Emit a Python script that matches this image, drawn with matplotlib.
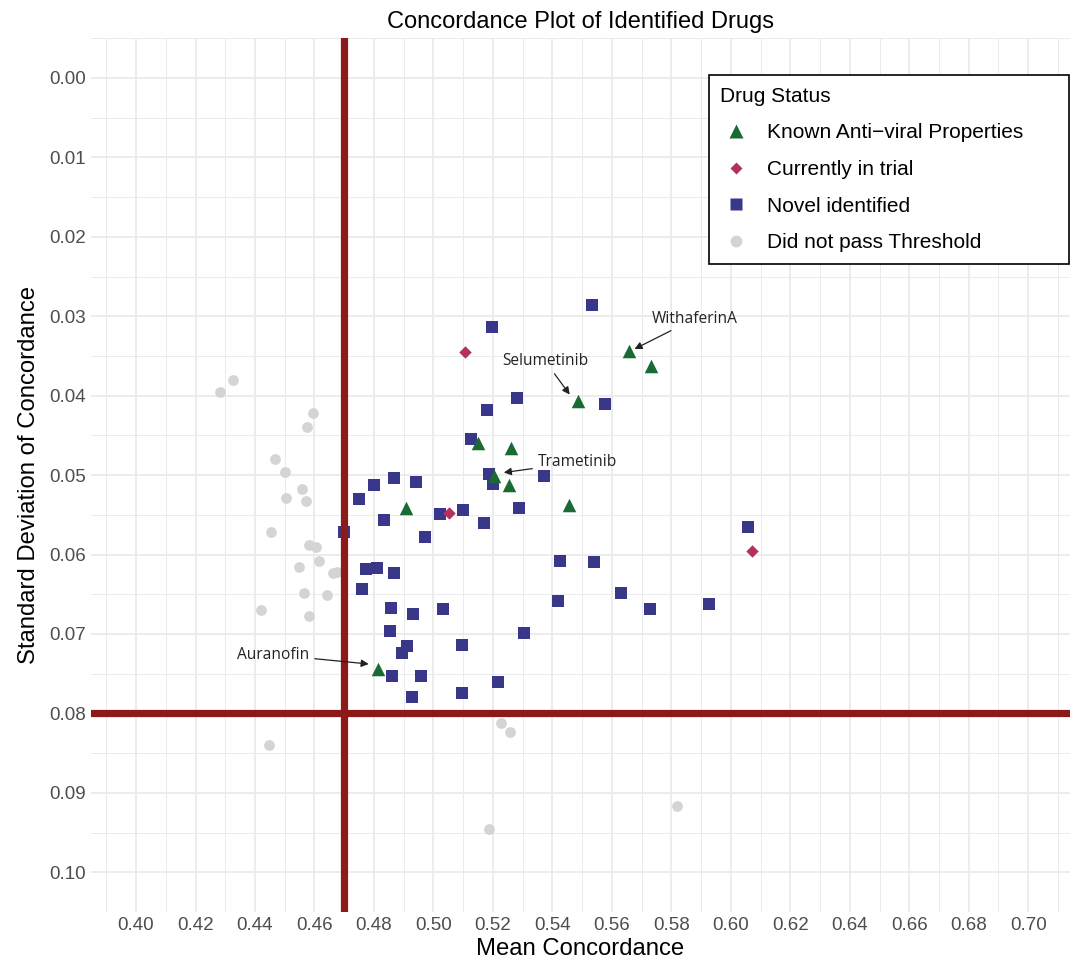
import numpy as np
import matplotlib.pyplot as plt
from matplotlib.lines import Line2D

plt.rcParams['font.family'] = ['Liberation Sans', 'DejaVu Sans']

# points (mean concordance, sd of concordance)
known_x = [0.5657, 0.5730, 0.5485, 0.5151, 0.5261, 0.5203, 0.5254, 0.4908, 0.5456, 0.4812]
known_y = [0.0344, 0.0362, 0.0407, 0.0460, 0.0466, 0.0501, 0.0512, 0.0542, 0.0538, 0.0744]

trial_x = [0.5106, 0.5054, 0.6071]
trial_y = [0.0345, 0.0548, 0.0596]

novel_x = [0.5532, 0.5197, 0.5281, 0.5180, 0.5125, 0.5188, 0.5199, 0.5371, 0.4867, 0.4943,
           0.4801, 0.4751, 0.5287, 0.5098, 0.5022, 0.4835, 0.5169, 0.4971, 0.4700, 0.5425,
           0.5541, 0.4772, 0.4811, 0.4866, 0.6059, 0.5576, 0.4760, 0.4857, 0.4933, 0.5033,
           0.5418, 0.5631, 0.5729, 0.5925, 0.4855, 0.5305, 0.5097, 0.4911, 0.4896, 0.4862,
           0.4959, 0.5218, 0.4927, 0.5096]
novel_y = [0.0286, 0.0314, 0.0403, 0.0418, 0.0455, 0.0498, 0.0511, 0.0501, 0.0504, 0.0509,
           0.0512, 0.0530, 0.0542, 0.0544, 0.0549, 0.0557, 0.0560, 0.0578, 0.0572, 0.0608,
           0.0609, 0.0618, 0.0617, 0.0623, 0.0565, 0.0410, 0.0644, 0.0667, 0.0675, 0.0669,
           0.0658, 0.0649, 0.0669, 0.0662, 0.0696, 0.0699, 0.0714, 0.0715, 0.0724, 0.0753,
           0.0753, 0.0761, 0.0779, 0.0774]

failed_x = [0.4282, 0.4327, 0.4594, 0.4576, 0.4467, 0.4501, 0.4558, 0.4504, 0.4571, 0.4454,
            0.4583, 0.4605, 0.4549, 0.4616, 0.4661, 0.4675, 0.4420, 0.4565, 0.4642, 0.4582,
            0.4446, 0.5228, 0.5257, 0.5188, 0.5819]
failed_y = [0.0395, 0.0380, 0.0422, 0.0440, 0.0480, 0.0496, 0.0517, 0.0529, 0.0532, 0.0571,
            0.0588, 0.0590, 0.0616, 0.0608, 0.0623, 0.0622, 0.0670, 0.0649, 0.0651, 0.0678,
            0.0840, 0.0812, 0.0824, 0.0945, 0.0917]

x_cut = 0.47
y_cut = 0.08

# label, point, text position
labels = [
    ("WithaferinA", (0.5672, 0.0342), (0.5879, 0.0303), 'center'),
    ("Selumetinib", (0.5461, 0.0400), (0.5375, 0.0356), 'center'),
    ("Trametinib", (0.5232, 0.0497), (0.5351, 0.0484), 'left'),
    ("Auranofin", (0.4787, 0.0738), (0.4461, 0.0726), 'center'),
]

green = '#1a6b33'
crimson = '#b5305c'
navy = '#38378a'
grey = '#d4d4d4'
red = '#8c1a1a'

fig = plt.figure(figsize=(10.72, 9.63), dpi=100)
ax = fig.add_axes([0.085, 0.053, 0.913, 0.9075])

ax.scatter(failed_x, failed_y, s=60, marker='o', color=grey, linewidths=0, zorder=3)
ax.scatter(novel_x, novel_y, s=72, marker='s', color=navy, linewidths=0, zorder=3)
ax.scatter(trial_x, trial_y, s=40, marker='D', color=crimson, linewidths=0, zorder=3)
ax.scatter(known_x, known_y, s=95, marker='^', color=green, linewidths=0, zorder=3)

ax.axvline(x_cut, color=red, lw=5.2, zorder=4)
ax.axhline(y_cut, color=red, lw=5.2, zorder=4)

for name, pt, txt, ha in labels:
    ax.annotate(name, xy=pt, xytext=txt, ha=ha, va='center', fontsize=11.2,
                family=['Open Sans', 'DejaVu Sans'], color='#222222',
                arrowprops=dict(arrowstyle='-|>', color='#222222', lw=0.9,
                                mutation_scale=11, shrinkA=2, shrinkB=1),
                zorder=5)

ax.set_xlim(0.3849, 0.7140)
ax.set_ylim(0.1049, -0.00503)
ax.set_xticks(np.arange(0.40, 0.701, 0.02))
ax.set_xticks(np.arange(0.39, 0.715, 0.01), minor=True)
ax.set_yticks(np.arange(0.0, 0.1001, 0.01))
ax.set_yticks(np.arange(-0.005, 0.1051, 0.005), minor=True)
ax.xaxis.set_major_formatter(plt.FuncFormatter(lambda v, p: f"{v:.2f}"))
ax.yaxis.set_major_formatter(plt.FuncFormatter(lambda v, p: f"{v:.2f}"))

ax.grid(which='major', color='#ebebeb', lw=1.3, zorder=0)
ax.grid(which='minor', color='#ebebeb', lw=0.7, zorder=0)
ax.set_axisbelow(True)
for sp in ax.spines.values():
    sp.set_visible(False)
ax.tick_params(which='both', length=0, labelsize=13.5, labelcolor='#4d4d4d', pad=3.5)

ax.set_xlabel("Mean Concordance", fontsize=17.2, labelpad=3)
ax.set_ylabel("Standard Deviation of Concordance", fontsize=17.2, labelpad=7)
ax.set_title("Concordance Plot of Identified Drugs", fontsize=17, pad=7)

handles = [
    Line2D([], [], ls='', marker='^', ms=10.5, color=green, mec='none'),
    Line2D([], [], ls='', marker='D', ms=6, color=crimson, mec='none'),
    Line2D([], [], ls='', marker='s', ms=9, color=navy, mec='none'),
    Line2D([], [], ls='', marker='o', ms=8.5, color=grey, mec='none'),
]
names = ["Known Anti\u2212viral Properties", "Currently in trial",
         "Novel identified", "Did not pass Threshold"]
leg = ax.legend(handles, names, title="Drug Status", loc='upper left',
                bbox_to_anchor=(0.6313, 0.5, 0.3677, 0.4575), mode='expand',
                borderaxespad=0, fontsize=15, title_fontsize=15, frameon=True,
                fancybox=False, alignment='left', labelspacing=0.85,
                handletextpad=0.74, borderpad=0.55, handlelength=1.5)
leg.get_frame().set_edgecolor('black')
leg.get_frame().set_linewidth(1.2)
leg.get_frame().set_alpha(1)
leg.set_zorder(6)

fig.savefig("out.png", dpi=100)
